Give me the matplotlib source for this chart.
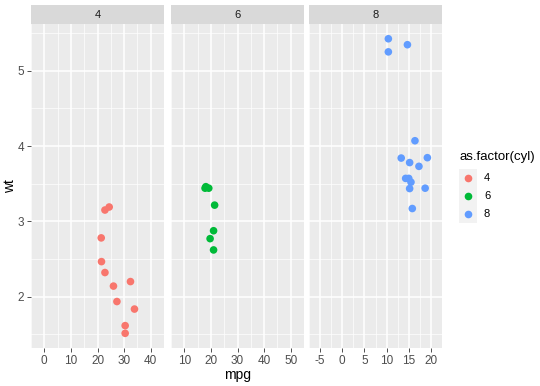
import matplotlib.pyplot as plt
import numpy as np

plt.rcParams['font.family'] = ['Liberation Sans', 'DejaVu Sans']
plt.rcParams['axes.unicode_minus'] = False

# mtcars: mpg / wt by cylinders
mpg_4 = [22.8, 24.4, 22.8, 32.4, 30.4, 33.9, 21.5, 27.3, 26.0, 30.4, 21.4]
wt_4 = [2.320, 3.190, 3.150, 2.200, 1.615, 1.835, 2.465, 1.935, 2.140, 1.513, 2.780]
mpg_6 = [21.0, 21.0, 21.4, 18.1, 19.2, 17.8, 19.7]
wt_6 = [2.620, 2.875, 3.215, 3.460, 3.440, 3.440, 2.770]
mpg_8 = [18.7, 14.3, 16.4, 17.3, 15.2, 10.4, 10.4, 14.7, 15.5, 15.2, 13.3, 19.2, 15.8, 15.0]
wt_8 = [3.440, 3.570, 4.070, 3.730, 3.780, 5.250, 5.424, 5.345, 3.520, 3.435, 3.840, 3.845, 3.170, 3.570]

cyl_labels = ["4", "6", "8"]
colors = ["#F8766D", "#00BA38", "#619CFF"]
xlims = [(-2.2, 41.5), (8.25, 51.7), (-6.24, 21.3)]
xticks = [[0, 10, 20, 30, 40], [10, 20, 30, 40, 50], [-5, 0, 5, 10, 15, 20]]
yticks = [2, 3, 4, 5]

W, H = 540, 386
fig = plt.figure(figsize=(W / 100, H / 100), dpi=100)
fig.patch.set_facecolor("white")

lefts = [31, 171, 309]
pw = 133
top, bottom = 24, 348
data = [(mpg_4, wt_4), (mpg_6, wt_6), (mpg_8, wt_8)]

for i in range(3):
    ax = fig.add_axes([lefts[i] / W, 1 - bottom / H, pw / W, (bottom - top) / H])
    ax.set_facecolor("#EBEBEB")
    for s in ax.spines.values():
        s.set_visible(False)
    ax.set_xlim(*xlims[i])
    ax.set_ylim(1.318, 5.62)
    ax.set_xticks(xticks[i])
    step = xticks[i][1] - xticks[i][0]
    ax.set_xticks(np.arange(xticks[i][0] - step / 2, xticks[i][-1] + step, step), minor=True)
    ax.set_yticks(yticks)
    ax.set_yticks([1.5, 2.5, 3.5, 4.5, 5.5], minor=True)
    ax.grid(which="major", color="white", lw=1.1)
    ax.grid(which="minor", color="white", lw=0.5)
    ax.set_axisbelow(True)
    ax.tick_params(which="major", colors="#333333", labelcolor="#4D4D4D",
                   labelsize=8.5, length=3, width=0.6, pad=2)
    ax.tick_params(which="minor", length=0)
    if i > 0:
        ax.set_yticklabels([])
        ax.tick_params(axis="y", which="major", length=0)
    x, y = data[i]
    ax.scatter(x, y, s=30, color=colors[i], edgecolors="none", zorder=3)

    sax = fig.add_axes([lefts[i] / W, 1 - top / H, pw / W, 19 / H])
    sax.set_facecolor("#D9D9D9")
    sax.set_xticks([])
    sax.set_yticks([])
    for s in sax.spines.values():
        s.set_visible(False)
    sax.text(0.5, 0.5, cyl_labels[i], ha="center", va="center", fontsize=8, color="#1A1A1A")

fig.text((lefts[1] + pw / 2) / W, 1 - 375 / H, "mpg", ha="center", va="center", fontsize=10)
fig.text(10 / W, 1 - 186 / H, "wt", ha="center", va="center", rotation=90, fontsize=10)

# legend
fig.text(459 / W, 1 - 157 / H, "as.factor(cyl)", ha="left", va="center", fontsize=9.5)
for j in range(3):
    ky = 178 + j * 18
    fig.patches.append(plt.Rectangle((459 / W, 1 - (ky + 9) / H), 18 / W, 18 / H,
                                     transform=fig.transFigure, facecolor="#F2F2F2",
                                     edgecolor="none"))
    fig.add_artist(plt.Line2D([468 / W], [1 - ky / H], marker="o", markersize=5.5,
                              color=colors[j], markeredgewidth=0, transform=fig.transFigure))
    fig.text(484 / W, 1 - ky / H, cyl_labels[j], ha="left", va="center", fontsize=8)

fig.savefig("out.png", dpi=100)
